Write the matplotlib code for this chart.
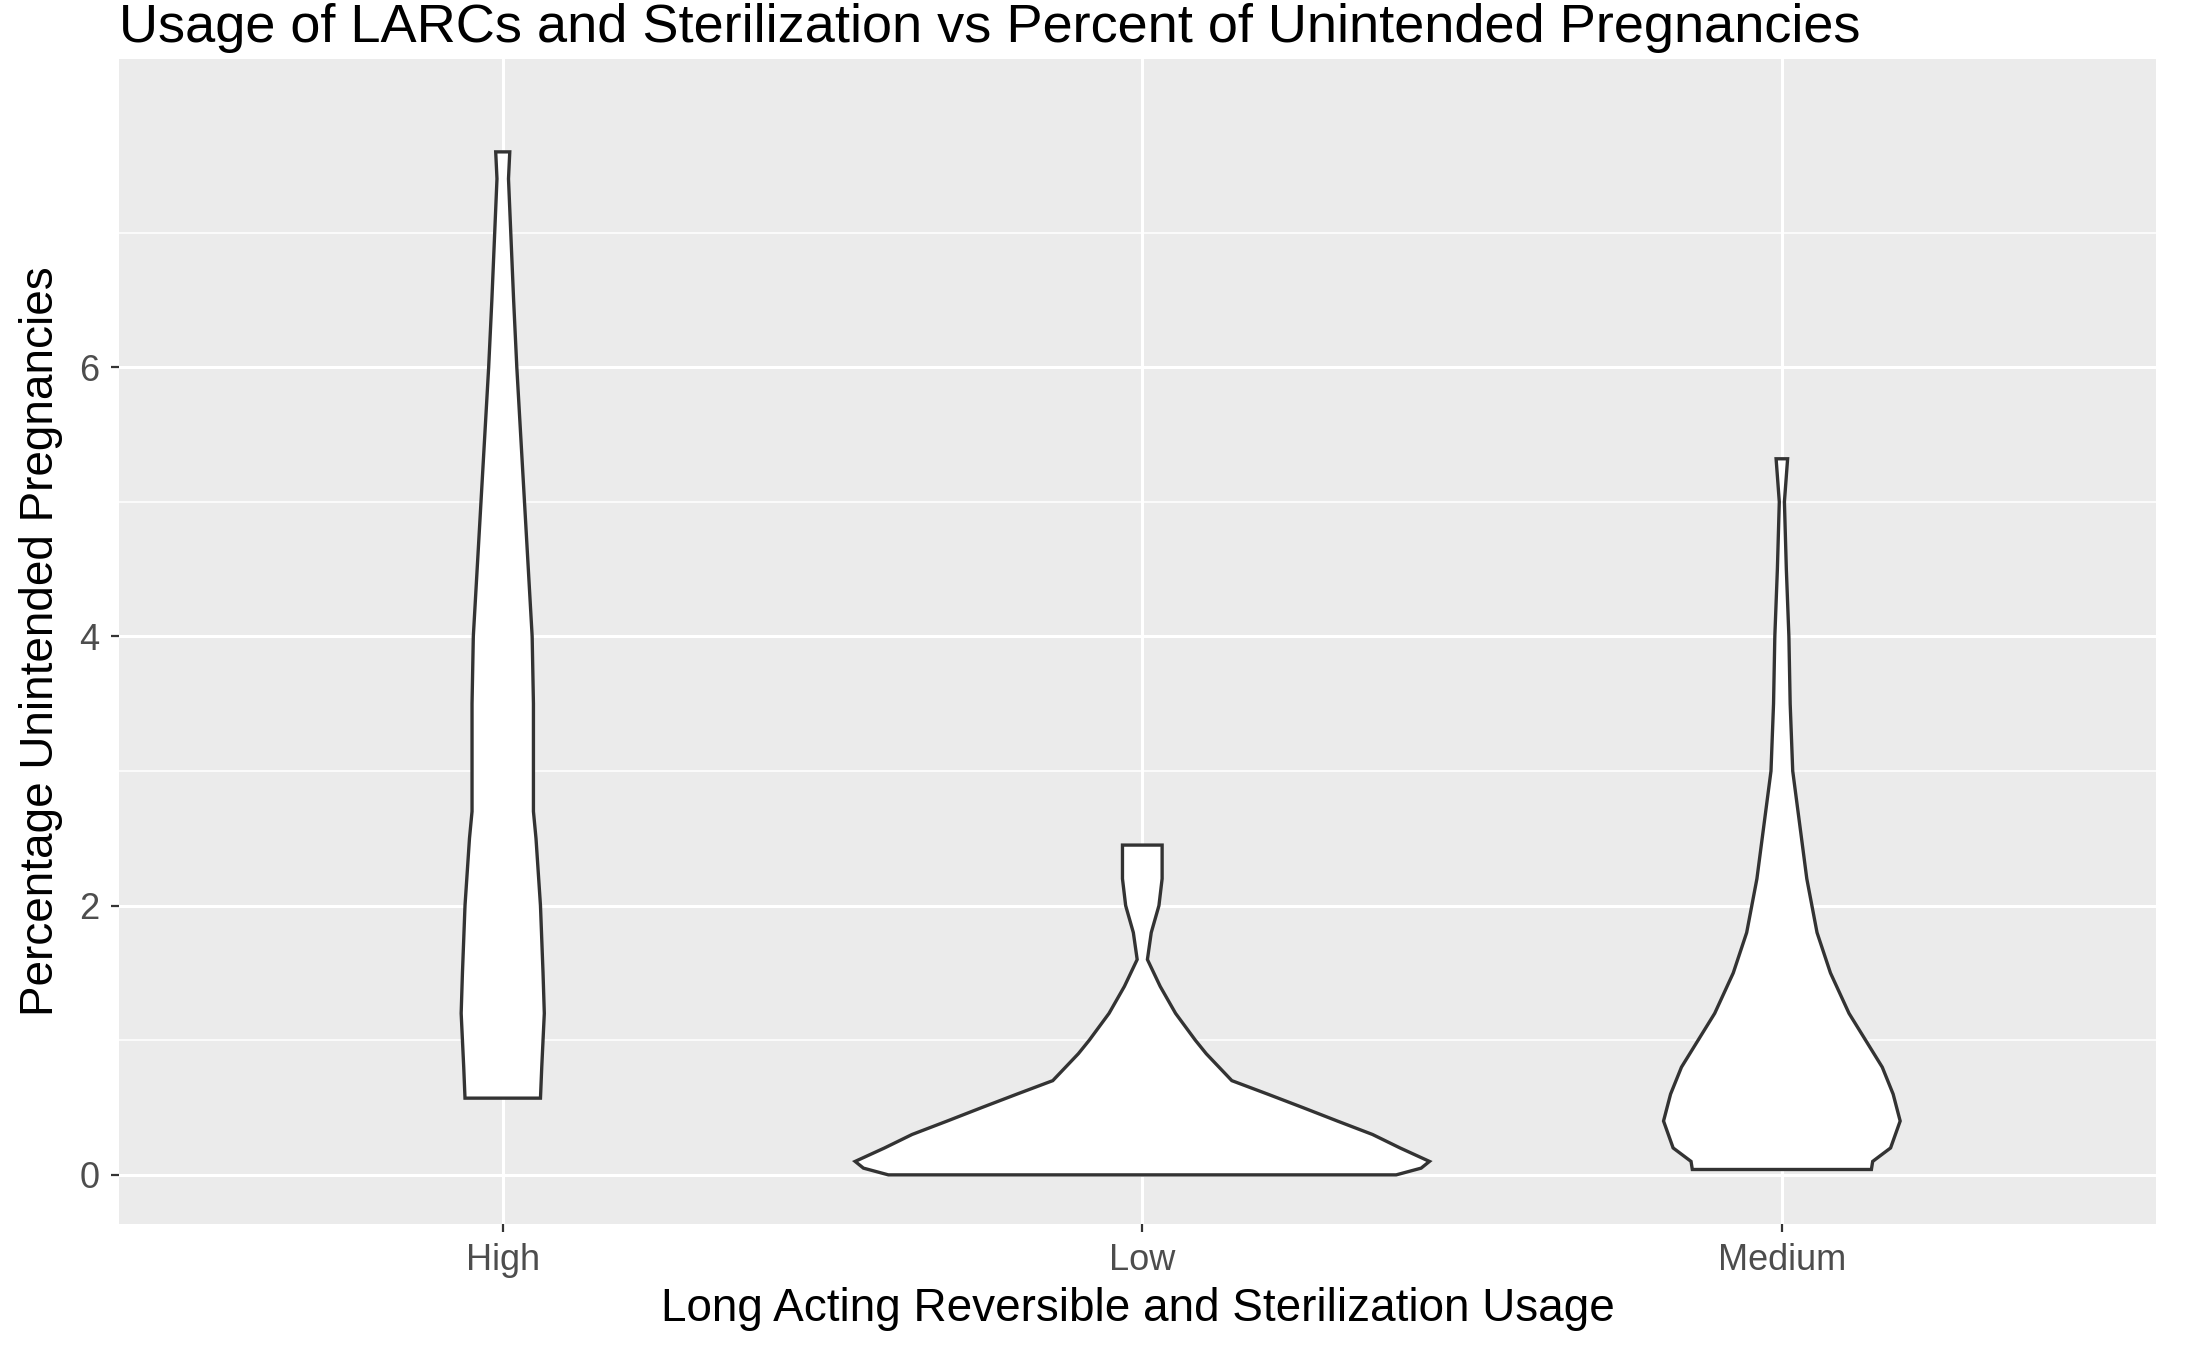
import numpy as np
import matplotlib.pyplot as plt

plt.rcParams['font.family'] = ['Liberation Sans', 'DejaVu Sans']

categories = ["High", "Low", "Medium"]

# violin outlines: y value and half-width (x units)
high_y = [0.57, 0.8, 1.2, 1.5, 2.0, 2.5, 2.7, 3.5, 4.0, 4.5, 5.5, 6.0, 6.5, 7.4, 7.6]
high_w = [0.059, 0.061, 0.065, 0.063, 0.059, 0.052, 0.048, 0.048, 0.046, 0.040, 0.028, 0.022, 0.017, 0.009, 0.011]
low_y = [0.0, 0.05, 0.1, 0.2, 0.3, 0.4, 0.5, 0.6, 0.7, 0.8, 0.9, 1.0, 1.2, 1.4, 1.6, 1.8, 2.0, 2.2, 2.45]
low_w = [0.397, 0.436, 0.449, 0.403, 0.360, 0.305, 0.251, 0.196, 0.140, 0.120, 0.100, 0.083, 0.052, 0.028, 0.008, 0.014, 0.026, 0.031, 0.031]
med_y = [0.04, 0.1, 0.2, 0.4, 0.6, 0.8, 1.0, 1.2, 1.5, 1.8, 2.2, 2.6, 3.0, 3.5, 4.0, 4.5, 5.0, 5.32]
med_w = [0.140, 0.142, 0.170, 0.185, 0.174, 0.157, 0.131, 0.105, 0.076, 0.055, 0.039, 0.028, 0.017, 0.013, 0.011, 0.007, 0.004, 0.009]

profiles = [(high_y, high_w), (low_y, low_w), (med_y, med_w)]

fig = plt.figure(figsize=(10.935, 6.755), dpi=200)
ax = fig.add_axes([119/2187, 1 - 1224/1351, (2156-119)/2187, (1224-59)/1351])
ax.set_facecolor('#EBEBEB')
for s in ax.spines.values():
    s.set_visible(False)

for i, (ys, ws) in enumerate(profiles):
    c = i + 1
    ys = np.array(ys); ws = np.array(ws)
    xs = np.concatenate([c - ws, (c + ws)[::-1], [c - ws[0]]])
    yy = np.concatenate([ys, ys[::-1], [ys[0]]])
    ax.fill(xs, yy, facecolor='white', edgecolor='#333333', lw=1.2, zorder=3)

ax.set_xlim(0.4, 3.585)
ax.set_ylim(-0.365, 8.29)
ax.set_xticks([1, 2, 3])
ax.set_xticklabels(categories)
ax.set_yticks([0, 2, 4, 6])
ax.set_yticks([1, 3, 5, 7], minor=True)
ax.grid(True, which='major', color='white', lw=1.1, zorder=0)
ax.grid(True, which='minor', axis='y', color='white', lw=0.55, zorder=0)
ax.set_axisbelow(True)
ax.tick_params(which='major', length=3, color='#333333', labelsize=13, labelcolor='#4D4D4D', pad=4)
ax.tick_params(which='minor', length=0)

ax.set_xlabel("Long Acting Reversible and Sterilization Usage", fontsize=16.5, labelpad=3)
ax.set_ylabel("Percentage Unintended Pregnancies", fontsize=16.5, labelpad=6)
ax.set_title("Usage of LARCs and Sterilization vs Percent of Unintended Pregnancies",
             fontsize=19.5, loc='left', x=0.0, pad=6)

fig.savefig("out.png", dpi=200)
